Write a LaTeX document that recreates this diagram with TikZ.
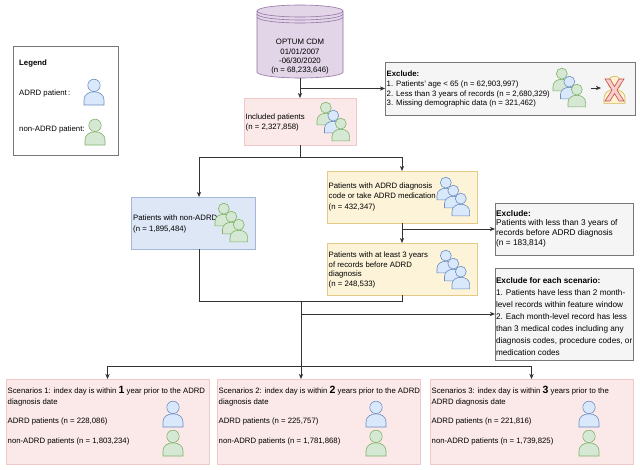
\documentclass[tikz,border=0pt]{standalone}
\usepackage{fontspec}
\setmainfont{Liberation Sans}
\usetikzlibrary{arrows.meta}
\definecolor{bluefill}{HTML}{DAE8FC}
\definecolor{blueline}{HTML}{6C8EBF}
\definecolor{greenfill}{HTML}{D5E8D4}
\definecolor{greenline}{HTML}{82B366}
\definecolor{tanfill}{HTML}{FFF2CC}
\definecolor{tanline}{HTML}{D6B656}
\definecolor{pinkfill}{HTML}{FBE8E8}
\definecolor{pinkline}{HTML}{F0C8C8}
\definecolor{yelfill}{HTML}{FCF3D9}
\definecolor{yelline}{HTML}{E3CB85}
\definecolor{bluebox}{HTML}{DDE7F5}
\definecolor{blueboxline}{HTML}{A3B8D6}
\definecolor{grayfill}{HTML}{F5F5F5}
\definecolor{grayline}{HTML}{777777}
\definecolor{cylfill}{HTML}{E1D5E7}
\definecolor{cylline}{HTML}{9673A6}
\definecolor{xfill}{HTML}{F8CECC}
\definecolor{xline}{HTML}{C0504D}
\definecolor{edgecol}{HTML}{333333}
\begin{document}
\begin{tikzpicture}[x=1pt,y=-1pt,
  box/.style={rectangle, inner sep=0pt, outer sep=0pt, line width=0.6pt},
  pinkbox/.style={box, fill=pinkfill, draw=pinkline},
  yelbox/.style={box, fill=yelfill, draw=yelline},
  bluebx/.style={box, fill=bluebox, draw=blueboxline},
  graybox/.style={box, fill=grayfill, draw=grayline},
  legbox/.style={box, fill=white, draw=grayline},
  conn/.style={draw=edgecol, line width=0.7pt},
  arr/.style={conn, -{Stealth[length=5pt,width=4.2pt,inset=1.3pt]}},
  txt/.style={inner sep=0pt, anchor=north west, align=left, font=\fontsize{7.8}{10}\selectfont},
  person/.pic={
    \path[fill=#1fill, draw=#1line, line width=0.6pt] (0,26) -- (0,21) .. controls (0,15.8) and (4.5,12.8) .. (10,12.8) .. controls (15.5,12.8) and (20,15.8) .. (20,21) -- (20,26) -- cycle;
    \path[fill=#1fill, draw=#1line, line width=0.6pt] (10,6.4) circle[radius=6.2];
  }
]
\useasboundingbox (0,0) rectangle (640,469);
\fill[white] (0,0) rectangle (640,469);

% cylinder
\path[fill=cylfill, draw=cylline, line width=0.6pt] (257,11) -- (257,72) arc[start angle=180, end angle=0, x radius=43, y radius=6] -- (343,11) arc[start angle=0, end angle=-180, x radius=43, y radius=6] -- cycle;
\draw[cylline, line width=0.6pt] (257,11) arc[start angle=180, end angle=0, x radius=43, y radius=6];
\draw[cylline, line width=0.6pt] (257,14) arc[start angle=180, end angle=0, x radius=43, y radius=6];
\draw[cylline, line width=0.6pt] (257,17) arc[start angle=180, end angle=0, x radius=43, y radius=6];
\node[txt, anchor=north, align=center, font=\fontsize{7.8}{9.4}\selectfont] (cyltxt) at (300,39.1) {OPTUM CDM\\01/01/2007\\-06/30/2020\\(n = 68,233,646)};

% boxes
\node[legbox, minimum width=105pt, minimum height=109pt] (legend) at (65.5,100.5) {};
\node[graybox, minimum width=250pt, minimum height=53pt] (exc1) at (510,88.5) {};
\node[pinkbox, minimum width=112pt, minimum height=47pt] (incl) at (300,121.5) {};
\node[bluebx, minimum width=124pt, minimum height=52pt] (nonadrd) at (193,223) {};
\node[yelbox, minimum width=150pt, minimum height=52pt] (adrd) at (402,197) {};
\node[yelbox, minimum width=150pt, minimum height=52pt] (three) at (402,269) {};
\node[graybox, minimum width=138pt, minimum height=52pt] (exc2) at (564,229) {};
\node[graybox, minimum width=138pt, minimum height=92pt] (exc3) at (564,314) {};
\node[pinkbox, minimum width=203pt, minimum height=85pt] (s1) at (107.5,421.5) {};
\node[pinkbox, minimum width=203pt, minimum height=85pt] (s2) at (318.5,421.5) {};
\node[pinkbox, minimum width=203pt, minimum height=85pt] (s3) at (531.5,421.5) {};

% legend
\node[txt] (legtitle) at (19,60.1) {\textbf{Legend}};
\node[txt] (legadrd) at (19,90.1) {ADRD patient\,:};
\node[txt] (legnon) at (19,126.1) {non-ADRD patient:};
\pic at (84,79) {person=blue};
\pic at (85,119) {person=green};

% exclude 1
\node[txt, font=\fontsize{7.8}{9.6}\selectfont] (exc1txt) at (386.5,71.1) {\textbf{Exclude:}\\1. Patients' age < 65 (n = 62,903,997)\\2. Less than 3 years of records (n = 2,680,329)\\3. Missing demographic data (n = 321,462)};
\pic[scale=0.88] at (553,68) {person=green};
\pic[scale=0.88] at (560.5,76) {person=blue};
\pic[scale=0.88] at (568,84) {person=green};
\pic[scale=1.05] at (604,76) {person=tan};
\path[fill=xfill, draw=xline, line width=0.6pt] (605,79) -- (610,79) -- (614.5,86.5) -- (619,79) -- (624,79) -- (617,90) -- (624,101) -- (619,101) -- (614.5,93.5) -- (610,101) -- (605,101) -- (612,90) -- cycle;

% included
\node[txt] (incltxt) at (245.5,114.1) {Included patients\\(n = 2,327,858)};
\pic[scale=0.88] at (317,102) {person=green};
\pic[scale=0.88] at (324.5,110) {person=blue};
\pic[scale=0.88] at (332,118) {person=green};

% non-ADRD
\node[txt, font=\fontsize{7.8}{10.5}\selectfont] (nontxt) at (133,215) {Patients with non-ADRD\\(n = 1,895,484)};
\pic[scale=0.88] at (215,203) {person=green};
\pic[scale=0.88] at (222.5,211) {person=green};
\pic[scale=0.88] at (230,219) {person=green};

% ADRD
\node[txt, font=\fontsize{7.8}{10.5}\selectfont] (adrdtxt) at (328.5,182.3) {Patients with ADRD diagnosis\\code or take ADRD medication\\(n = 432,347)};
\pic[scale=0.88] at (437,177) {person=blue};
\pic[scale=0.88] at (444.5,185) {person=blue};
\pic[scale=0.88] at (452,193) {person=blue};

% three years
\node[txt, font=\fontsize{7.8}{9.4}\selectfont] (threetxt) at (328.5,252.1) {Patients with at least 3 years\\of records before ADRD\\diagnosis\\(n = 248,533)};
\pic[scale=0.88] at (437,250) {person=blue};
\pic[scale=0.88] at (444.5,258) {person=blue};
\pic[scale=0.88] at (452,266) {person=blue};

% exclude 2 and 3
\node[txt, font=\fontsize{8.3}{9.8}\selectfont] (exc2txt) at (496,209.9) {\textbf{Exclude:}\\Patients with less than 3 years of\\records before ADRD diagnosis\\(n = 183,814)};
\node[txt, font=\fontsize{8.2}{12}\selectfont] (exc3txt) at (495.8,276.9) {\textbf{Exclude for each scenario:}\\1. Patients have less than 2 month-\\level records within feature window\\2. Each month-level record has less\\than 3 medical codes including any\\diagnosis codes, procedure codes, or\\medication codes};

% scenarios
\node[txt, font=\fontsize{7.75}{10.7}\selectfont] (s1head) at (7.5,388.1) {Scenarios 1: index day is within \smash{\fontsize{10.5}{10}\selectfont\bfseries 1} year prior to the ADRD\\diagnosis date};
\node[txt, font=\fontsize{7.75}{10}\selectfont] (s1a) at (7.5,418.1) {ADRD patients (n = 228,086)};
\node[txt, font=\fontsize{7.75}{10}\selectfont] (s1b) at (7.5,438.1) {non-ADRD patients (n = 1,803,234)};
\pic at (163,401) {person=blue};
\pic at (163,430) {person=green};

\node[txt, font=\fontsize{7.75}{10.7}\selectfont] (s2head) at (218.5,388.1) {Scenarios 2: index day is within \smash{\fontsize{10.5}{10}\selectfont\bfseries 2} years prior to the ADRD\\diagnosis date};
\node[txt, font=\fontsize{7.75}{10}\selectfont] (s2a) at (218.5,418.1) {ADRD patients (n = 225,757)};
\node[txt, font=\fontsize{7.75}{10}\selectfont] (s2b) at (218.5,438.1) {non-ADRD patients (n = 1,781,868)};
\pic at (366,401) {person=blue};
\pic at (366,430) {person=green};

\node[txt, font=\fontsize{7.75}{10.7}\selectfont] (s3head) at (431.5,388.1) {Scenarios 3: index day is within \smash{\fontsize{10.5}{10}\selectfont\bfseries 3} years prior to the\\ADRD diagnosis date};
\node[txt, font=\fontsize{7.75}{10}\selectfont] (s3a) at (431.5,418.1) {ADRD patients (n = 221,816)};
\node[txt, font=\fontsize{7.75}{10}\selectfont] (s3b) at (431.5,438.1) {non-ADRD patients (n = 1,739,825)};
\pic at (579,401) {person=blue};
\pic at (579,430) {person=green};

% connectors
\coordinate (cylbot) at (300,78);
\coordinate (j1) at (300,88.5);
\coordinate (j2) at (300,157);
\coordinate (j2l) at (199,157);
\coordinate (j2r) at (402,157);
\coordinate (j3) at (402,229);
\coordinate (j4l) at (199,301);
\coordinate (j4r) at (402,301);
\coordinate (j4) at (301,301);
\coordinate (j5) at (301,314);
\coordinate (j6l) at (107.5,366);
\coordinate (j6r) at (531.5,366);
\coordinate (ia) at (591,88);
\coordinate (ib) at (601,88);

\draw[arr] (cylbot) -- (incl.north);
\draw[arr] (j1) -- (exc1.west);
\draw[conn] (incl.south) -- (j2);
\draw[conn] (j2l) -- (j2r);
\draw[arr] (j2l) -- (j2l |- nonadrd.north);
\draw[arr] (j2r) -- (adrd.north);
\draw[arr] (adrd.south) -- (three.north);
\draw[arr] (j3) -- (exc2.west);
\draw[conn] (j2l |- nonadrd.south) -- (j4l) -- (j4r) -- (three.south);
\draw[arr] (j4) -- (j4 |- s2.north);
\draw[arr] (j5) -- (exc3.west);
\draw[conn] (j6l) -- (j6r);
\draw[arr] (j6l) -- (s1.north);
\draw[arr] (j6r) -- (s3.north);
\draw[arr] (ia) -- (ib);
\end{tikzpicture}
\end{document}
